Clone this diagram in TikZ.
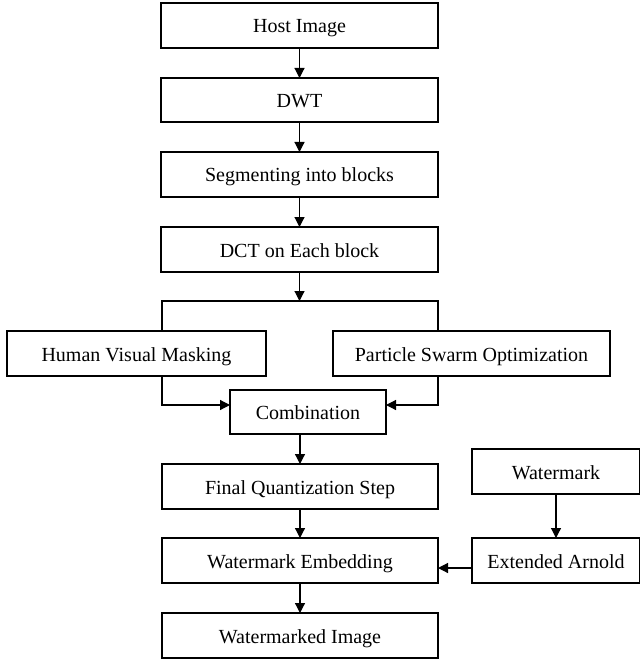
\documentclass[tikz,border=0pt]{standalone}
\usepackage{fontspec}
\setmainfont{Liberation Serif}
\usetikzlibrary{arrows.meta}
\begin{document}
\begin{tikzpicture}[x=1pt, y=-1pt,
  stepbox/.style={draw, line width=1.6pt, inner sep=0pt, outer sep=0pt,
    minimum height=45pt, text height=15pt, text depth=0pt,
    font=\fontsize{20}{23}\selectfont},
  flow/.style={line width=1.2pt},
  arr/.style={flow, -{Triangle[length=10pt, width=10pt]}}]
  \useasboundingbox (0,0) rectangle (639,660);

  % main column
  \node[stepbox, minimum width=277pt] (host) at (299.5,25.5) {Host Image};
  \node[stepbox, minimum width=277pt, minimum height=44pt] (dwt) at (299.5,100) {DWT};
  \node[stepbox, minimum width=277pt] (seg) at (299.5,174.5) {Segmenting into blocks};
  \node[stepbox, minimum width=277pt] (dct) at (299.5,249.5) {DCT on Each block};

  % parallel branches
  \node[stepbox, minimum width=259pt] (hvm) at (136.5,353.5) {Human Visual Masking};
  \node[stepbox, minimum width=277pt] (pso) at (471.5,353.5) {Particle Swarm Optimization};
  \node[stepbox, minimum width=156pt, minimum height=44pt] (comb) at (308,412) {Combination};

  % embedding stage
  \node[stepbox, minimum width=276pt] (fqs) at (300,486.5) {Final Quantization Step};
  \node[stepbox, minimum width=276pt] (we) at (300,560.5) {Watermark Embedding};
  \node[stepbox, minimum width=276pt] (wi) at (300,635.5) {Watermarked Image};

  % watermark preparation
  \node[stepbox, minimum width=168pt] (wm) at (556,471.5) {Watermark};
  \node[stepbox, minimum width=168pt] (ea) at (556,560.5) {Extended Arnold};

  % split points
  \coordinate (split) at (299.5,301);
  \coordinate (sl) at (162,301);
  \coordinate (sr) at (438,301);

  \draw[arr] (host) -- (dwt);
  \draw[arr] (dwt) -- (seg);
  \draw[arr] (seg) -- (dct);
  \draw[arr] (dct) -- (split);
  \draw[flow] (hvm.north -| sl) |- (sr) -- (pso.north -| sr);
  \draw[arr] (hvm.south -| sl) |- ([yshift=7pt]comb.west);
  \draw[arr] (pso.south -| sr) |- ([yshift=7pt]comb.east);
  \draw[arr] (comb.south -| fqs.north) -- (fqs.north);
  \draw[arr] (fqs) -- (we);
  \draw[arr] (we) -- (wi);
  \draw[arr] (wm) -- (ea);
  \draw[arr] ([yshift=-7.5pt]ea.west) -- ([yshift=-7.5pt]we.east);
\end{tikzpicture}
\end{document}
